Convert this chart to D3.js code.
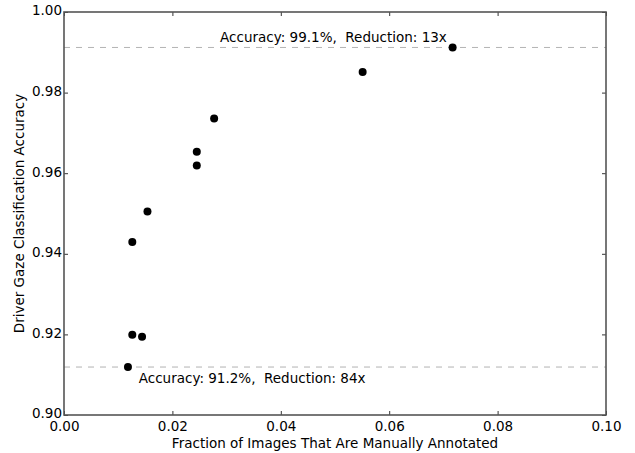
<!DOCTYPE html>
<html>
<head>
<meta charset="utf-8">
<script src="https://cdn.jsdelivr.net/npm/d3@7"></script>
<style>
  body { margin: 0; background: #fff; }
  svg { display: block; font-family: "DejaVu Sans", sans-serif; }
  text { white-space: pre; }
</style>
</head>
<body>
<div id="chart"></div>
<script>
// Data
const fraction = [0.0717, 0.0551, 0.0277, 0.0245, 0.0245, 0.0154, 0.0126, 0.0126, 0.0144, 0.0118];
const accuracy = [0.9912, 0.9851, 0.9736, 0.9653, 0.9619, 0.9505, 0.9429, 0.9199, 0.9194, 0.9119];
const refLines = [0.9912, 0.9119];
const refLabels = ["Accuracy: 99.1%,  Reduction: 13x", "Accuracy: 91.2%,  Reduction: 84x"];
const refLabelX = [0.0288, 0.0138];
const xTicks = [0, 0.02, 0.04, 0.06, 0.08, 0.10];
const yTicks = [0.90, 0.92, 0.94, 0.96, 0.98, 1.00];

const W = 635, H = 453;
const margin = {top: 12, right: 29, bottom: 38, left: 64};
const width = W - margin.left - margin.right;
const height = H - margin.top - margin.bottom;
const fs = "13.5px";

const svg = d3.select("#chart").append("svg")
  .attr("width", W).attr("height", H);
const g = svg.append("g").attr("transform", `translate(${margin.left},${margin.top})`);

const x = d3.scaleLinear().domain([0, 0.1]).range([0, width]);
const y = d3.scaleLinear().domain([0.9, 1.0]).range([height, 0]);

// Reference dashed lines
g.selectAll("line.ref")
  .data(refLines)
  .enter().append("line")
  .attr("class", "ref")
  .attr("x1", 0).attr("x2", width)
  .attr("y1", d => y(d)).attr("y2", d => y(d))
  .attr("stroke", "#b3b3b3")
  .attr("stroke-width", 1)
  .attr("stroke-dasharray", "6,6");

// Labels
g.append("text")
  .attr("x", x(refLabelX[0])).attr("y", y(refLines[0]) - 5)
  .attr("font-size", fs).text(refLabels[0]);
g.append("text")
  .attr("x", x(refLabelX[1])).attr("y", y(refLines[1]) + 16)
  .attr("font-size", fs).text(refLabels[1]);

// Points
g.selectAll("circle")
  .data(fraction.map((f, i) => ({f, a: accuracy[i]})))
  .enter().append("circle")
  .attr("cx", d => x(d.f))
  .attr("cy", d => y(d.a))
  .attr("r", 4)
  .attr("fill", "#000");

// Axes with inward ticks
function styleAxis(sel) {
  sel.select(".domain").remove();
  sel.selectAll(".tick line").attr("stroke", "#000").attr("stroke-width", 0.8);
  sel.selectAll(".tick text").attr("font-size", fs).attr("fill", "#000")
    .attr("font-family", "DejaVu Sans, sans-serif");
}

g.append("g").attr("transform", `translate(0,${height})`)
  .call(d3.axisBottom(x).tickValues(xTicks).tickFormat(d3.format(".2f")).tickSizeInner(-4).tickSizeOuter(0).tickPadding(6))
  .call(styleAxis);
g.append("g")
  .call(d3.axisTop(x).tickValues(xTicks).tickFormat("").tickSizeInner(-4).tickSizeOuter(0))
  .call(styleAxis);
g.append("g")
  .call(d3.axisLeft(y).tickValues(yTicks).tickFormat(d3.format(".2f")).tickSizeInner(-4).tickSizeOuter(0).tickPadding(2))
  .call(styleAxis)
  .selectAll(".tick text").attr("dy", "0.22em");
g.append("g").attr("transform", `translate(${width},0)`)
  .call(d3.axisRight(y).tickValues(yTicks).tickFormat("").tickSizeInner(-4).tickSizeOuter(0))
  .call(styleAxis);

// Frame
g.append("rect")
  .attr("x", 0).attr("y", 0).attr("width", width).attr("height", height)
  .attr("fill", "none").attr("stroke", "#555").attr("stroke-width", 1.6);

// Axis titles
svg.append("text")
  .attr("x", margin.left + width / 2).attr("y", H - 5)
  .attr("text-anchor", "middle").attr("font-size", fs)
  .text("Fraction of Images That Are Manually Annotated");
svg.append("text")
  .attr("transform", `translate(24,${margin.top + height / 2}) rotate(-90)`)
  .attr("text-anchor", "middle").attr("font-size", fs)
  .text("Driver Gaze Classification Accuracy");
</script>
</body>
</html>
